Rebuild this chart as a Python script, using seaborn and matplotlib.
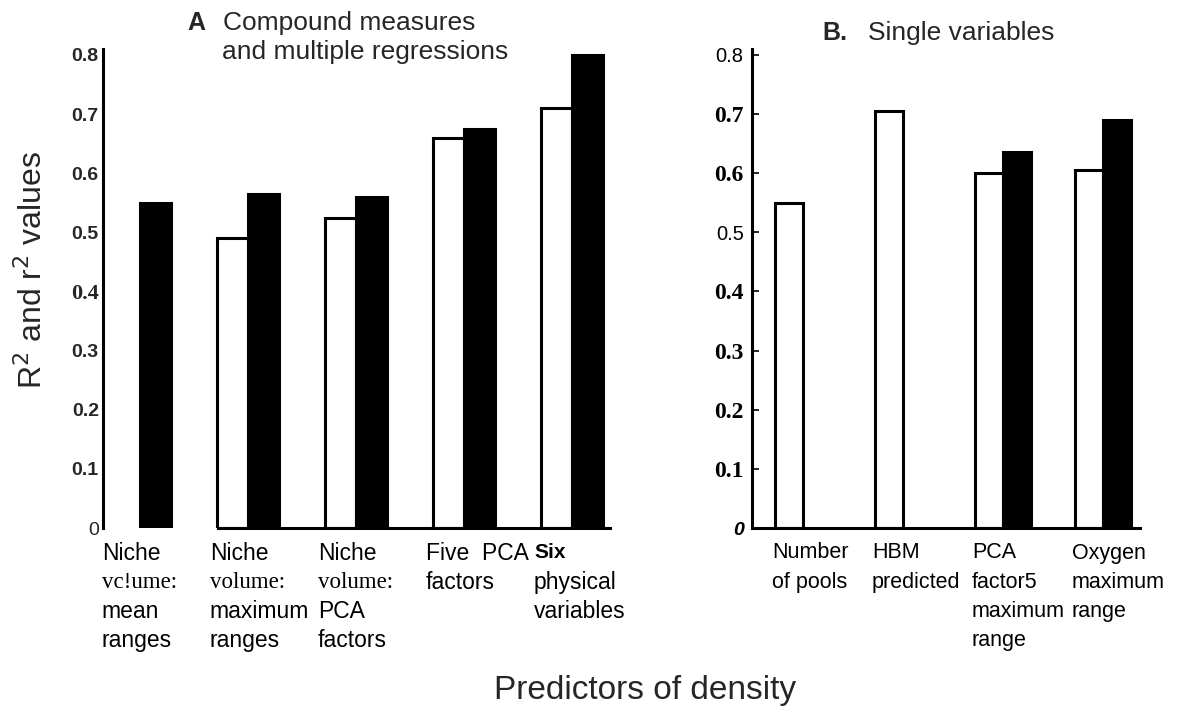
import numpy as np
import pandas as pd
import matplotlib
matplotlib.use("Agg")
import matplotlib.pyplot as plt
import seaborn as sns
from matplotlib.transforms import blended_transform_factory

sns.set_theme(style="white")
plt.rcParams["font.family"] = ["Liberation Sans", "DejaVu Sans"]

# ── data ─────────────────────────────────────────────
a_groups = ["Niche\nvc!ume:\nmean\nranges",
            "Niche\nvolume:\nmaximum\nranges",
            "Niche\nvolume:\nPCA\nfactors",
            "Five  PCA\nfactors",
            "Six\nphysical\nvariables"]
a_open = [np.nan, 0.49, 0.525, 0.66, 0.71]
a_filled = [0.55, 0.565, 0.56, 0.675, 0.80]

b_groups = ["Number\nof pools",
            "HBM\npredicted",
            "PCA\nfactor5\nmaximum\nrange",
            "Oxygen\nmaximum\nrange"]
b_open = [0.55, 0.705, 0.60, 0.605]
b_filled = [np.nan, np.nan, 0.635, 0.69]

y_ticks = [0, 0.1, 0.2, 0.3, 0.4, 0.5, 0.6, 0.7, 0.8]
y_tick_labels = ["0", "0.1", "0.2", "0.3", "0.4", "0.5", "0.6", "0.7", "0.8"]

# tick label styles (family, weight, style, size) as they look in the scan
SANS, SERIF = "Liberation Sans", "Liberation Serif"
a_tick_fonts = [(SANS, "normal", "normal", 14)] + \
               [(SANS, "bold", "normal", 14)] * 3 + \
               [(SERIF, "bold", "normal", 16)] + \
               [(SANS, "bold", "normal", 14)] * 4
b_tick_fonts = [(SANS, "bold", "italic", 14)] + \
               [(SERIF, "bold", "normal", 17)] * 4 + \
               [(SANS, "normal", "normal", 14.5)] + \
               [(SERIF, "bold", "normal", 17)] * 2 + \
               [(SANS, "normal", "normal", 14.5)]
serif_lines = {"vc!ume:", "volume:"}
bold_lines = {"Six"}


def long_df(groups, open_vals, filled_vals):
    df = pd.DataFrame({
        "group": groups * 2,
        "kind": ["open"] * len(groups) + ["filled"] * len(groups),
        "value": list(open_vals) + list(filled_vals),
    })
    return df.dropna()


W, H = 1180, 715
fig = plt.figure(figsize=(W / 100, H / 100), dpi=100)
bottom, height = 0.2615, 0.67
ax_a = fig.add_axes([103 / W, bottom, 507 / W, height])
ax_b = fig.add_axes([752 / W, bottom, 388 / W, height])

palette = {"open": "white", "filled": "black"}


def draw_panel(ax, groups, open_vals, filled_vals, width, xlim, tick_fonts, lab_shift, lab_size):
    sns.barplot(data=long_df(groups, open_vals, filled_vals), x="group", y="value",
                hue="kind", order=groups, hue_order=["open", "filled"],
                palette=palette, edgecolor="black", linewidth=2.2,
                width=width, errorbar=None, legend=False, ax=ax)
    ax.set_xlim(*xlim)
    ax.set_ylim(0, 0.81)
    ax.set_xticks([])
    ax.set_xlabel("")
    ax.set_ylabel("")
    ax.set_yticks(y_ticks)
    ax.set_yticklabels(y_tick_labels)
    for lab, (fam, wt, st, sz) in zip(ax.get_yticklabels(), tick_fonts):
        lab.set_fontfamily(fam)
        lab.set_fontweight(wt)
        lab.set_fontstyle(st)
        lab.set_fontsize(sz)
    for side in ["top", "right"]:
        ax.spines[side].set_visible(False)
    for side in ["left", "bottom"]:
        ax.spines[side].set_color("black")
        ax.spines[side].set_linewidth(2.2)
    ax.patch.set_alpha(0)

    # category labels, left aligned under each group
    trans = blended_transform_factory(ax.transData, fig.transFigure)
    for i, lab in enumerate(groups):
        x_left = i - width / 2 + lab_shift
        for j, line in enumerate(lab.split("\n")):
            fam = SERIF if line in serif_lines else SANS
            wt = "bold" if line in bold_lines else "normal"
            sz = lab_size - 1.5 if line in bold_lines else lab_size
            ax.text(x_left, 1 - (553 + 29.3 * j) / H, line, transform=trans,
                    ha="left", va="center", fontsize=sz, family=fam,
                    fontweight=wt, color="black")


# ── panel A ─────────────────────────────────────────
draw_panel(ax_a, a_groups, a_open, a_filled, 0.575, (-0.34, 4.35), a_tick_fonts, -0.065, 16.5)
ax_a.tick_params(axis="y", length=0, pad=3)
ax_a.spines["bottom"].set_bounds(0.72, 4.35)

# ── panel B ─────────────────────────────────────────
draw_panel(ax_b, b_groups, b_open, b_filled, 0.56, (-0.51, 3.37), b_tick_fonts, -0.03, 15.5)
ax_b.tick_params(axis="y", direction="in", length=5, width=1.2, pad=6, left=True, colors="black")

# ── titles & axis labels ────────────────────────────
fig.text(187 / W, 1 - 23 / H, "A", fontsize=18, fontweight="bold", va="center")
fig.text(223 / W, 1 - 23 / H, "Compound measures", fontsize=19, va="center")
fig.text(222 / W, 1 - 52 / H, "and multiple regressions", fontsize=19, va="center")
fig.text(822 / W, 1 - 33 / H, "B.", fontsize=18, fontweight="bold", va="center")
fig.text(868 / W, 1 - 33 / H, "Single variables", fontsize=19, va="center")

fig.text(33 / W, 1 - 270 / H, "R$^2$ and r$^2$ values", rotation=90, fontsize=23,
         ha="center", va="center")
fig.text(645 / W, 1 - 690 / H, "Predictors of density", fontsize=24, ha="center", va="center")

fig.savefig("out.png", dpi=100, facecolor="white")
